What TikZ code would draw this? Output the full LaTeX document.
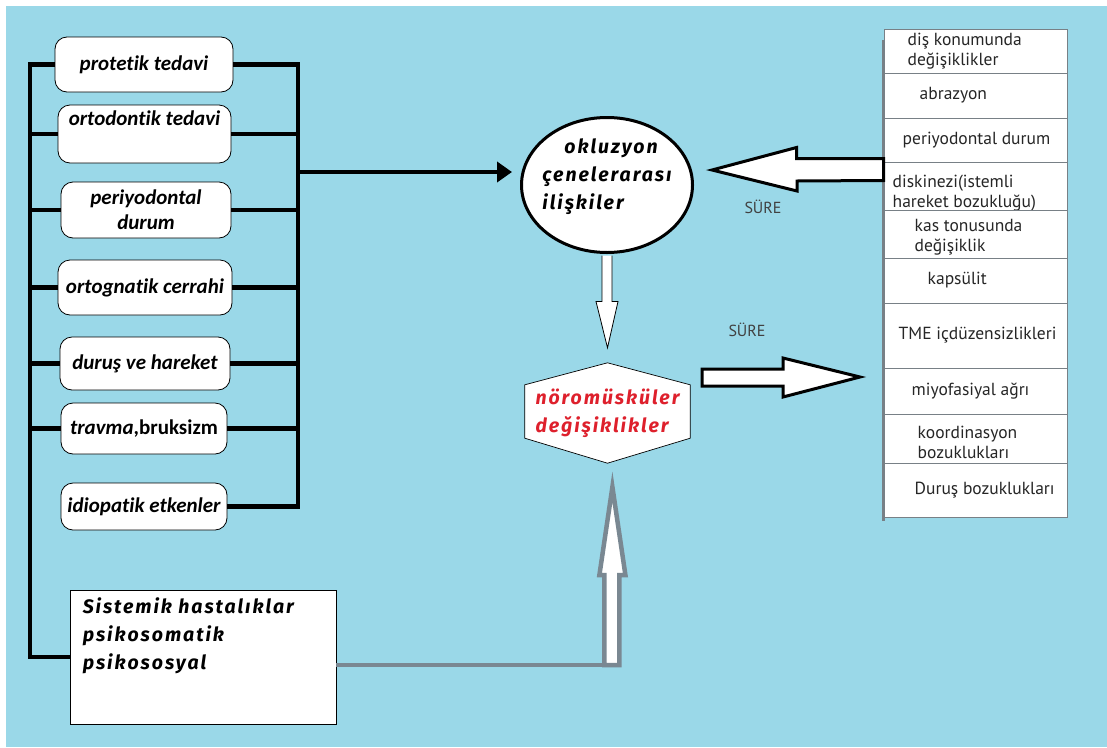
\documentclass[tikz,border=0pt]{standalone}
\usepackage{fontspec}
\setmainfont{Carlito}[Ligatures=CommonOff]
\newfontfamily\widefont[LetterSpace=10]{Fira Sans}
\newfontfamily\tabfont{PT Sans}
\usepackage{tikz}
\usetikzlibrary{shapes, arrows.meta, positioning, calc, backgrounds}
\definecolor{skyblue}{RGB}{154,216,232}
\definecolor{tablegray}{RGB}{120,128,134}
\definecolor{arrowgray}{RGB}{122,136,146}
\definecolor{nmred}{RGB}{222,32,44}

\begin{document}
\begin{tikzpicture}[x=1pt, y=-1pt,
    lbox/.style={draw, fill=white, rounded corners=12pt, line width=0.8pt, align=center, inner sep=2pt,
        font=\fontsize{21}{25}\selectfont\bfseries\itshape},
    bar/.style={line width=4.5pt},
    row/.style={draw=tablegray, fill=white, line width=1pt, minimum width=183pt, inner sep=0pt},
    rowtext/.style={anchor=west, align=left, inner sep=0pt, text=black!85,
        font=\tabfont\fontsize{17.5}{20}\selectfont},
    wide/.style={font=\widefont\fontsize{19.5}{28}\selectfont\bfseries\itshape},
    sure/.style={font=\tabfont\fontsize{16}{18}\selectfont, text=black!75},
    blockarrow/.style={draw=black, fill=white, line width=3pt, line join=miter},
    grayline/.style={draw=arrowgray, line width=4.5pt}]

        % Background
        \useasboundingbox (0,0) rectangle (1107,747);
        \begin{scope}[on background layer]
            \fill[skyblue] (6,6) rectangle (1107,747);
        \end{scope}

        % Causes
        \foreach \nm/\x/\y/\w/\h/\txt in {
            prot/144/64.5/178/55/{protetik tedavi},
            orto/144.5/134/173/58/{ortodontik tedavi\\\strut},
            peri/146/210/170/56/{periyodontal\\durum},
            ortog/145/287.5/174/55/{ortognatik cerrahi},
            durus/145/363.5/170/53/{duruş ve hareket},
            trav/144/428.5/166/51/{travma{\upshape,bruksizm}},
            idio/144/506.5/166/47/{idiopatik etkenler}} {
            \node[lbox, minimum width=\w pt, minimum height=\h pt] (\nm) at (\x,\y) {\txt};
        }
        \node[draw, fill=white, line width=0.8pt, minimum width=266pt, minimum height=134pt] (sis) at (203,657) {};
        \node[wide, anchor=north west, align=left, inner sep=0pt] (sistxt) at ($(sis.north west)+(13,8)$)
            {Sistemik hastalıklar\\psikosomatik\\psikososyal};

        % Bars
        \coordinate (lx) at (30,0);
        \coordinate (rx) at (298,0);
        \draw[bar] (prot.west) -- (prot.west -| lx) -- (sis.west -| lx) -- (sis.west);
        \draw[bar] (prot.east) -- (prot.east -| rx) -- (idio.east -| rx) -- (idio.east);
        \foreach \nm in {orto,peri,ortog,durus,trav} {
            \draw[bar] (\nm.west -| lx) -- (\nm.west);
            \draw[bar] (\nm.east) -- (\nm.east -| rx);
        }

        % Occlusion and neuromuscular changes
        \node[ellipse, draw, line width=3pt, fill=white, minimum width=171pt, minimum height=135pt] (circ) at (607,185) {};
        \node[wide, align=left, inner sep=0pt] (circtxt) at ($(circ.center)+(0,-8)$)
            {\hspace*{22pt}okluzyon\\çenelerarası\\ilişkiler};
        \node[wide, text=nmred, align=left, minimum width=165pt, minimum height=100pt, inner sep=0pt]
            (hex) at (607.5,413) {nöromüsküler\\değişiklikler};
        \begin{scope}[on background layer]
            \draw[fill=white, line width=0.7pt] (hex.north) -- ($(hex.north east)+(0,22)$)
                -- ($(hex.south east)+(0,-25)$) -- (hex.south) -- ($(hex.south west)+(0,-25)$)
                -- ($(hex.north west)+(0,22)$) -- cycle;
        \end{scope}

        % Effects
        \foreach \i/\ya/\yb/\dx/\dy/\txt in {
            1/29/73/24/0/{diş konumunda\\değişiklikler},
            2/73/118/36/0/{abrazyon},
            3/118/162/19/0/{periyodontal durum},
            4/162/210/9/7/{diskinezi(istemli\\hareket bozukluğu)},
            5/210/258/31/3/{kas tonusunda\\değişiklik},
            6/258/303/44/0/{kapsülit},
            7/303/368/15/0/{TME içdüzensizlikleri},
            8/368/414/28/0/{miyofasiyal ağrı},
            9/414/463/34/4/{koordinasyon\\bozuklukları},
            10/463/517/31/0/{Duruş bozuklukları}} {
            \node[row, minimum height={\yb-\ya}] (t\i) at (975.5,{(\ya+\yb)/2}) {};
            \node[rowtext] (l\i) at ($(t\i.west)+(\dx,\dy)$) {\txt};
        }
        \draw[tablegray, line width=3pt] ($(t1.north west)+(0,11)$) -- ($(t10.south west)+(0,3)$);

        % Arrows
        \coordinate (hub) at (298,172);
        \draw[bar, -{Triangle[length=15pt, width=20pt]}, shorten >=8pt] (hub) -- (circ.west |- hub);
        \draw[fill=white, line width=0.8pt] ($(circ.south)+(-5,1.5)$) -- ++(0,46) -- ++(-6,0)
            -- ($(hex.north)+(0,-15)$) -- ($(circ.south)+(11,47.5)$) -- ++(-6,0) -- ($(circ.south)+(5,1.5)$);
        \coordinate (sureL) at (712,170);
        \draw[blockarrow] ($(t4.north west)+(0,-3)$) -- ++(-87,0) -- ++(0,-11) -- (sureL)
            -- ++(85,21) -- ++(0,-10) -- ($(t4.north west)+(0,19)$) -- cycle;
        \coordinate (sureR) at (860,377);
        \draw[blockarrow] (sureR) -- ++(-77,-19) -- ++(0,11) -- ++(-81,0) -- ++(0,17) -- ++(81,0)
            -- ++(0,11) -- cycle;
        \coordinate (upfoot) at ($(sis.east)+(268,8)$);
        \draw[grayline] (sis.east |- upfoot) -- (upfoot);
        \draw[grayline, fill=white] (upfoot) -- ++(0,-90) -- ++(-5,0) -- ++(13,-88) -- ++(13,88)
            -- ++(-6,0) -- ++(0,90) -- cycle;

        % Labels
        \node[sure] (sure1) at (763,207) {SÜRE};
        \node[sure] (sure2) at (747,330) {SÜRE};
\end{tikzpicture}
\end{document}
